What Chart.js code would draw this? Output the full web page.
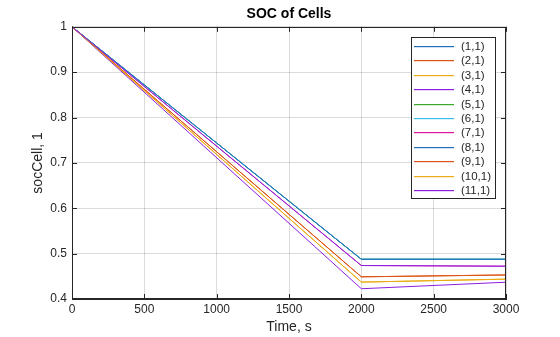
<!DOCTYPE html>
<html>
<head>
<meta charset="utf-8">
<script src="https://cdn.jsdelivr.net/npm/chart.js@4/dist/chart.umd.min.js"></script>
<style>
  html, body { margin: 0; padding: 0; background: #fff; }
  #wrap { width: 560px; height: 337px; }
</style>
</head>
<body>
<div id="wrap"><canvas id="soc" width="560" height="337"></canvas></div>
<script>
// time samples (s) and state of charge per cell
const times = [0, 2000, 3000];
const cellNames = ["(1,1)", "(2,1)", "(3,1)", "(4,1)", "(5,1)", "(6,1)", "(7,1)", "(8,1)", "(9,1)", "(10,1)", "(11,1)"];
const soc1 = [1, 0.4876, 0.4876];
const soc2 = [1, 0.4489, 0.4530];
const soc3 = [1, 0.4372, 0.4438];
const soc4 = [1, 0.4226, 0.4370];
const soc5 = [1, 0.4876, 0.4876];
const soc6 = [1, 0.4876, 0.4876];
const soc7 = [1, 0.4738, 0.4723];
const soc8 = [1, 0.4876, 0.4876];
const soc9 = [1, 0.4489, 0.4530];
const soc10 = [1, 0.4372, 0.4438];
const soc11 = [1, 0.4738, 0.4723];
const socCells = [soc1, soc2, soc3, soc4, soc5, soc6, soc7, soc8, soc9, soc10, soc11];
const xTicks = [0, 500, 1000, 1500, 2000, 2500, 3000];
const yTicks = [0.4, 0.5, 0.6, 0.7, 0.8, 0.9, 1];

const palette = ["#1f6fbd", "#db5413", "#eaab14", "#8b1fe0", "#3ca52b", "#3dbdec", "#e0169b"];
const colorOf = (i) => palette[i % palette.length];
const FONT = "'Liberation Sans', Arial, Helvetica, sans-serif";
const AXIS = "#262626";

// box outline, inward ticks on all sides, and the legend drawn inside the axes
const axesBox = {
  id: "axesBox",
  afterDraw(chart) {
    const { ctx, chartArea: a, scales } = chart;
    ctx.save();
    ctx.strokeStyle = AXIS;
    ctx.lineWidth = 1;
    ctx.beginPath();
    for (const v of xTicks) {
      const x = Math.round(scales.x.getPixelForValue(v)) + 0.5;
      ctx.moveTo(x, a.bottom); ctx.lineTo(x, a.bottom - 5);
      ctx.moveTo(x, a.top); ctx.lineTo(x, a.top + 5);
    }
    for (const v of yTicks) {
      const y = Math.round(scales.y.getPixelForValue(v)) + 0.5;
      ctx.moveTo(a.left, y); ctx.lineTo(a.left + 5, y);
      ctx.moveTo(a.right, y); ctx.lineTo(a.right - 5, y);
    }
    ctx.stroke();
    ctx.strokeRect(Math.round(a.left) + 0.5, Math.round(a.top) + 0.5,
                   Math.round(a.right - a.left) - 1, Math.round(a.bottom - a.top) - 1);

    // legend
    const bx = 411, by = 37, bw = 84, bh = 161, row = 14.4;
    ctx.fillStyle = "#fff";
    ctx.fillRect(bx, by, bw, bh);
    ctx.strokeStyle = AXIS;
    ctx.strokeRect(bx + 0.5, by + 0.5, bw, bh);
    ctx.font = "11.5px " + FONT;
    ctx.textBaseline = "middle";
    ctx.textAlign = "left";
    chart.data.datasets.forEach((ds, i) => {
      const y = Math.round(by + 9 + i * row);
      ctx.fillStyle = colorOf(i);
      ctx.fillRect(414, y, 40, 1.2);
      ctx.fillStyle = AXIS;
      ctx.fillText(ds.label, 461, y + 0.5);
    });
    ctx.restore();
  }
};

// later cells are drawn over earlier ones
const datasets = socCells.map((vals, i) => ({
  label: cellNames[i],
  data: times.map((t, k) => ({ x: t, y: vals[k] })),
  borderColor: colorOf(i),
  backgroundColor: colorOf(i),
  borderWidth: 1,
  pointRadius: 0,
  tension: 0,
  order: socCells.length - i,
}));

new Chart(document.getElementById("soc"), {
  type: "line",
  data: { datasets },
  options: {
    responsive: false,
    animation: false,
    layout: { padding: { top: 0, right: 54, bottom: 0, left: 0 } },
    plugins: {
      legend: { display: false },
      tooltip: { enabled: false },
      title: {
        display: true,
        text: "SOC of Cells",
        fullSize: false,
        color: "#000",
        font: { family: FONT, size: 14, weight: "bold" },
        padding: { top: 6, bottom: 4 },
      },
    },
    scales: {
      x: {
        type: "linear",
        min: 0,
        max: 3000,
        afterBuildTicks: (s) => { s.ticks = xTicks.map((v) => ({ value: v })); },
        afterFit: (s) => { s.height = 38; },
        ticks: { color: AXIS, font: { family: FONT, size: 12 }, padding: 3, maxRotation: 0, callback: (v) => String(v) },
        grid: { color: "rgba(0,0,0,0.14)", drawTicks: false },
        border: { display: true, color: AXIS },
        title: { display: true, text: "Time, s", color: AXIS, font: { family: FONT, size: 14 }, padding: { top: 0, bottom: 1 } },
      },
      y: {
        type: "linear",
        min: 0.4,
        max: 1,
        afterBuildTicks: (s) => { s.ticks = yTicks.map((v) => ({ value: v })); },
        afterFit: (s) => { s.width = 72; },
        ticks: { color: AXIS, font: { family: FONT, size: 12 }, padding: 5, callback: (v) => String(+v.toFixed(1)) },
        grid: { color: "rgba(0,0,0,0.14)", drawTicks: false },
        border: { display: true, color: AXIS },
        title: { display: true, text: "socCell, 1", color: AXIS, font: { family: FONT, size: 14 }, padding: { top: 30, bottom: 0 } },
      },
    },
  },
  plugins: [axesBox],
});
</script>
</body>
</html>
